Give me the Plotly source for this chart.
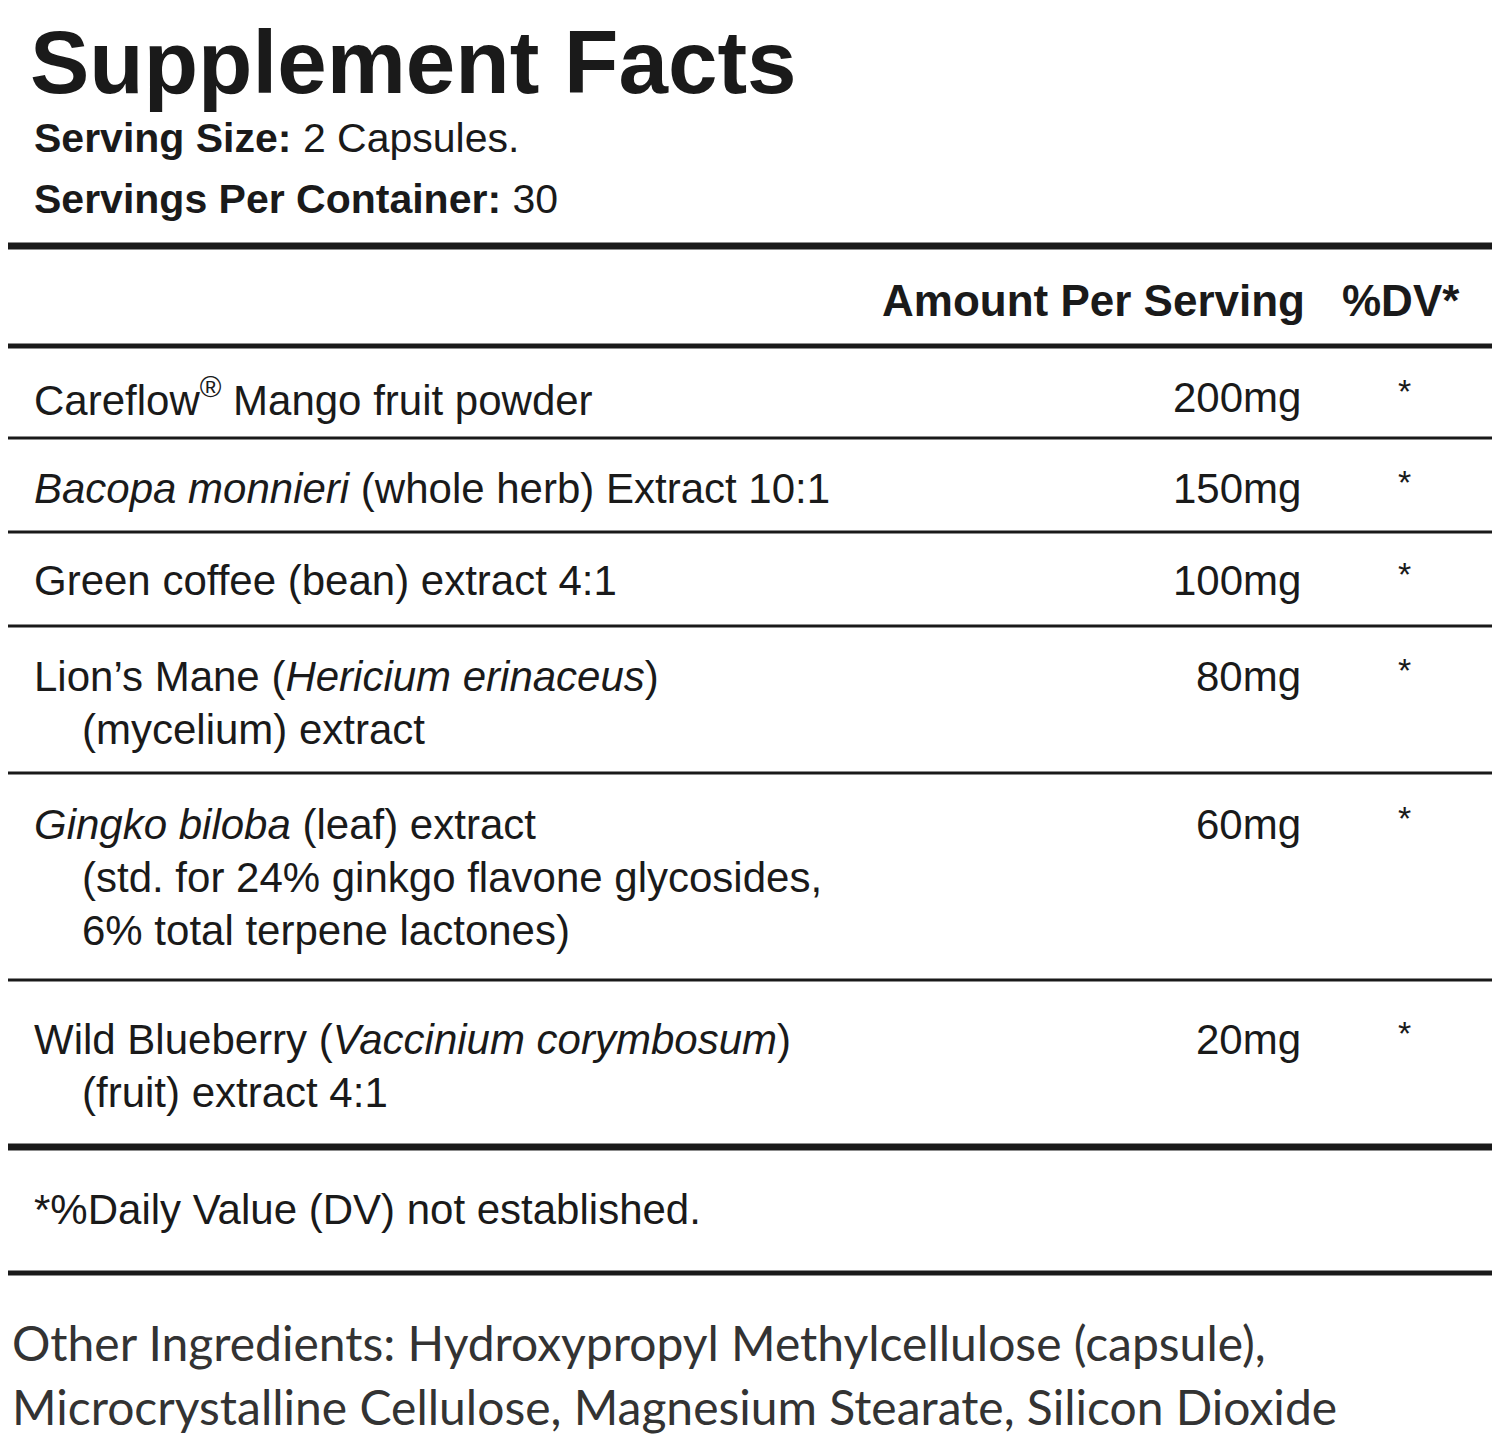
import plotly.graph_objects as go

title = "Supplement Facts"
serving_lines = ["<b>Serving Size:</b> 2 Capsules.", "<b>Servings Per Container:</b> 30"]
col_headers = ["Amount Per Serving", "%DV*"]
ingredients = [
    ["Careflow<sup>®</sup> Mango fruit powder"],
    ["<i>Bacopa monnieri</i> (whole herb) Extract 10:1"],
    ["Green coffee (bean) extract 4:1"],
    ["Lion’s Mane (<i>Hericium erinaceus</i>)", "   (mycelium) extract"],
    ["<i>Gingko biloba</i> (leaf) extract", "   (std. for 24% ginkgo flavone glycosides,", "   6% total terpene lactones)"],
    ["Wild Blueberry (<i>Vaccinium corymbosum</i>)", "   (fruit) extract 4:1"],
]
amounts = ["200mg", "150mg", "100mg", "80mg", "60mg", "20mg"]
dv = ["*", "*", "*", "*", "*", "*"]
row_top = [397, 488, 580, 676, 824, 1039]
separators = [438, 532, 626, 773, 980]
footnote = "*%Daily Value (DV) not established."
other = ["Other Ingredients: Hydroxypropyl Methylcellulose (capsule),",
         "Microcrystalline Cellulose, Magnesium Stearate, Silicon Dioxide"]

F = "Liberation Sans, Arial, sans-serif"
fig = go.Figure()
shapes = []
def hline(y, w):
    shapes.append(dict(type="line", x0=5, x1=1495, y0=y, y1=y, xref="x", yref="y",
                       line=dict(color="#1a1a1a", width=w)))
shapes.append(dict(type="rect", x0=5, x1=1495, y0=4, y1=1273, xref="x", yref="y",
                   line=dict(color="#1a1a1a", width=5)))
hline(246, 7); hline(346, 5); hline(1147, 7)
for s in separators:
    hline(s, 3)

ann = []
def t(x, y, text, size, anchor="left", color="#1a1a1a", font=F):
    ann.append(dict(x=x, y=y, xref="x", yref="y", text=text, showarrow=False,
                    xanchor=anchor, yanchor="middle", font=dict(size=size, color=color, family=font)))

t(28, 62, "<b>" + title + "</b>", 89)
t(32, 138, serving_lines[0], 41)
t(32, 199, serving_lines[1], 41)
t(1307, 300, "<b>" + col_headers[0] + "</b>", 44, "right")
t(1462, 300, "<b>" + col_headers[1] + "</b>", 44, "right")
for lines, a, d, y in zip(ingredients, amounts, dv, row_top):
    for i, ln in enumerate(lines):
        if ln.startswith("   "):
            t(80, y + 53 * i, ln.strip(), 42)
        else:
            t(32, y + 53 * i, ln, 42)
    t(1303, y, a, 42, "right")
    t(1404, y - 6, d, 34, "center")
t(32, 1209, footnote, 42)
t(10, 1342, other[0], 48, color="#333333", font="Lato, Open Sans, sans-serif")
t(10, 1406, other[1], 48, color="#333333", font="Lato, Open Sans, sans-serif")

fig.update_layout(width=1500, height=1436, margin=dict(l=0, r=0, t=0, b=0),
                  plot_bgcolor="white", paper_bgcolor="white",
                  xaxis=dict(range=[8, 1508], visible=False, fixedrange=True),
                  yaxis=dict(range=[1444, 8], visible=False, fixedrange=True),
                  shapes=shapes, annotations=ann, showlegend=False)
fig.write_html("out.html")
